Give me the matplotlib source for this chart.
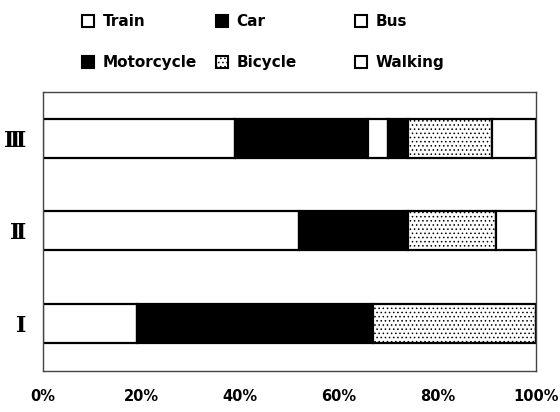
import numpy as np
import matplotlib
matplotlib.use("Agg")
import matplotlib.pyplot as plt
from matplotlib.patches import Patch

groups = ["\u2160", "\u2161", "\u2162"]  # I, II, III
modes = ["Train", "Car", "Bus", "Motorcycle", "Bicycle", "Walking"]
train = [19, 52, 39]
car = [48, 22, 27]
bus = [0, 0, 4]
motorcycle = [0, 0, 4]
bicycle = [33, 18, 17]
walking = [0, 8, 9]
xticks = [0, 20, 40, 60, 80, 100]
xticklabels = ["0%", "20%", "40%", "60%", "80%", "100%"]

series = [train, car, bus, motorcycle, bicycle, walking]
faces = ["white", "black", "white", "black", "white", "white"]
hatches = [None, None, None, None, "....", None]

plt.rcParams["hatch.linewidth"] = 0.6
fig = plt.figure(figsize=(5.6, 4.12), dpi=100)
ax = fig.add_axes([0.077, 0.099, 0.880, 0.678])

y = np.arange(len(groups))
left = np.zeros(len(groups))
for vals, fc, h in zip(series, faces, hatches):
    vals = np.array(vals, dtype=float)
    ax.barh(y, vals, left=left, height=0.42, color=fc, edgecolor="black",
            linewidth=1.6, hatch=h)
    left += vals

ax.set_xlim(0, 100)
ax.set_ylim(-0.52, 2.5)
ax.set_xticks(xticks)
ax.set_xticklabels(xticklabels, fontsize=10.5, fontweight="bold")
ax.set_yticks(y)
ax.set_yticklabels(groups, fontsize=16, family=["DejaVu Serif"], fontweight="bold")
ax.tick_params(length=0)
ax.tick_params(axis="x", pad=13)
ax.tick_params(axis="y", pad=12)
for s in ax.spines.values():
    s.set_linestyle((0, (1, 1)))
    s.set_color("#444444")
    s.set_linewidth(1.0)

handles = [Patch(facecolor=fc, edgecolor="black", linewidth=1.5, hatch=h)
           for fc, h in zip(faces, hatches)]
# one small legend per column: (Train, Motorcycle), (Car, Bicycle), (Bus, Walking)
col_x = [82 / 560, 216 / 560, 355 / 560]
for c in range(3):
    idx = [c, c + 3]
    fig.legend([handles[i] for i in idx], [modes[i] for i in idx],
               loc="upper left", bbox_to_anchor=(col_x[c], 0.966),
               frameon=False, borderpad=0, borderaxespad=0,
               handlelength=0.8, handleheight=0.8, handletextpad=0.55,
               labelspacing=1.72, prop={"size": 11, "weight": "bold"})

fig.savefig("out.png", dpi=100)
